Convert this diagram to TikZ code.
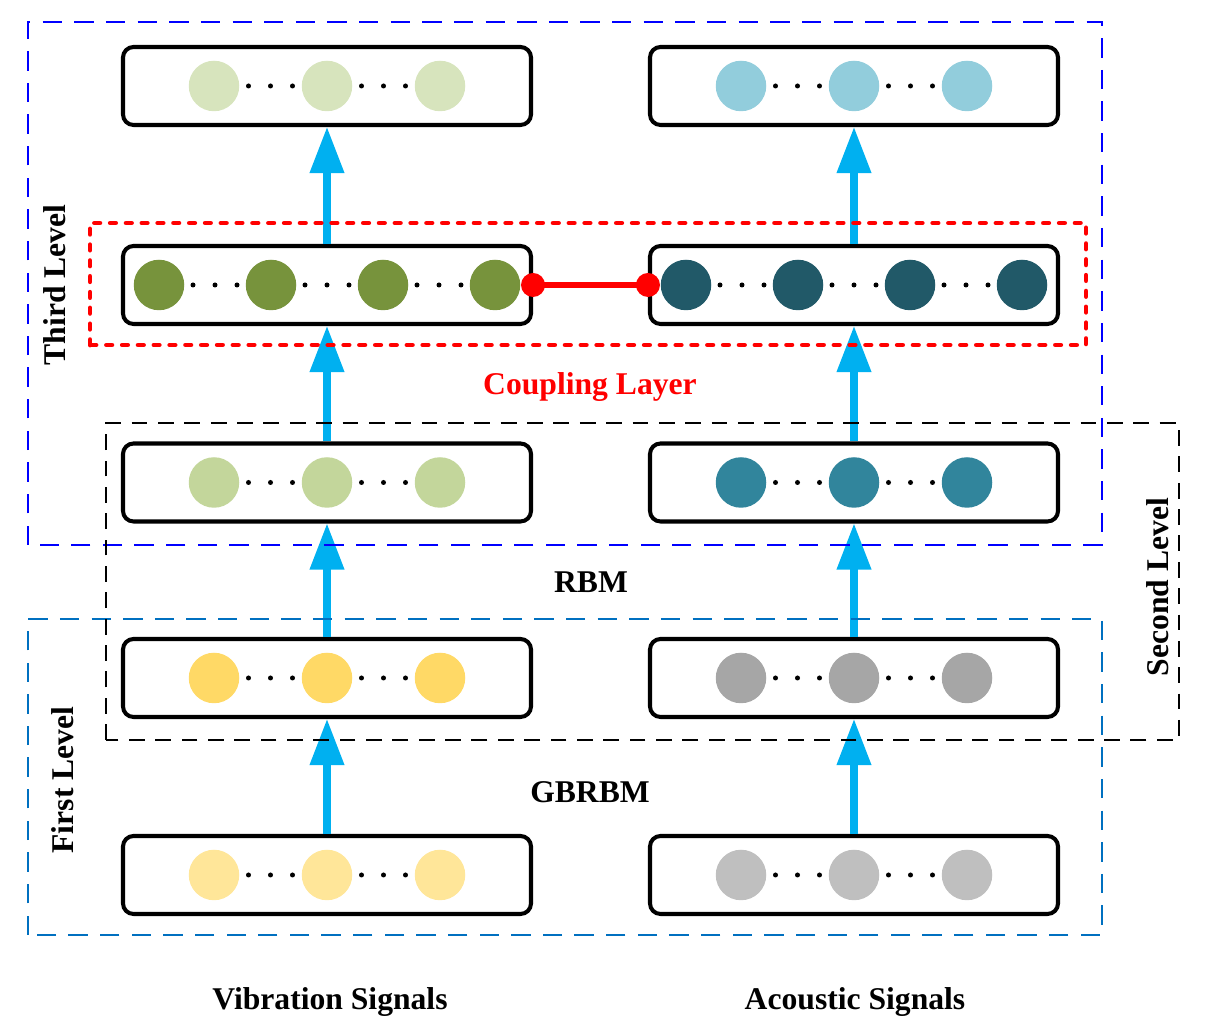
\documentclass[tikz,border=0pt]{standalone}
\usepackage{fontspec}
\setmainfont{Liberation Serif}
\usepackage{tikz}
\usetikzlibrary{arrows.meta}
\usetikzlibrary{calc}
\usetikzlibrary{positioning}
\definecolor{flow-blue}{HTML}{00B0F0}
\definecolor{frame-third}{HTML}{0000FF}
\definecolor{frame-first}{HTML}{0070C0}
\definecolor{vib-top}{HTML}{D7E4BD}
\definecolor{vib-couple}{HTML}{77933C}
\definecolor{vib-rbm}{HTML}{C3D69B}
\definecolor{vib-hidden}{HTML}{FFD966}
\definecolor{vib-input}{HTML}{FFE699}
\definecolor{aco-top}{HTML}{92CDDC}
\definecolor{aco-couple}{HTML}{215968}
\definecolor{aco-rbm}{HTML}{31859C}
\definecolor{aco-hidden}{HTML}{A6A6A6}
\definecolor{aco-input}{HTML}{BFBFBF}

\begin{document}
\begin{tikzpicture}[font=\fontsize{18}{21}\selectfont\bfseries]

    \useasboundingbox (0,0) rectangle (24.12,20.56);

    % layers
    \begin{scope}[every node/.style={draw, line width=2.3pt, rounded corners=6pt,
                  minimum width=8.16cm, minimum height=1.56cm, inner sep=0pt}]
        \node (vib1) at (6.54,3.06) {};
        \node (vib2) at (6.54,7.0) {};
        \node (vib3) at (6.54,10.91) {};
        \node (vib4) at (6.54,14.86) {};
        \node (vib5) at (6.54,18.84) {};
        \node (aco1) at (17.08,3.06) {};
        \node (aco2) at (17.08,7.0) {};
        \node (aco3) at (17.08,10.91) {};
        \node (aco4) at (17.08,14.86) {};
        \node (aco5) at (17.08,18.84) {};
    \end{scope}

    % units
    \begin{scope}[every node/.style={circle, minimum size=1.01cm, inner sep=0pt}]
        \node[fill=vib-input] (vib1-a) at (4.28,3.06) {};
        \node[fill=vib-input] (vib1-b) at (6.54,3.06) {};
        \node[fill=vib-input] (vib1-c) at (8.80,3.06) {};
        \node[fill=vib-hidden] (vib2-a) at (4.28,7.0) {};
        \node[fill=vib-hidden] (vib2-b) at (6.54,7.0) {};
        \node[fill=vib-hidden] (vib2-c) at (8.80,7.0) {};
        \node[fill=vib-rbm] (vib3-a) at (4.28,10.91) {};
        \node[fill=vib-rbm] (vib3-b) at (6.54,10.91) {};
        \node[fill=vib-rbm] (vib3-c) at (8.80,10.91) {};
        \node[fill=vib-couple] (vib4-a) at (3.18,14.86) {};
        \node[fill=vib-couple] (vib4-b) at (5.42,14.86) {};
        \node[fill=vib-couple] (vib4-c) at (7.66,14.86) {};
        \node[fill=vib-couple] (vib4-d) at (9.90,14.86) {};
        \node[fill=vib-top] (vib5-a) at (4.28,18.84) {};
        \node[fill=vib-top] (vib5-b) at (6.54,18.84) {};
        \node[fill=vib-top] (vib5-c) at (8.80,18.84) {};

        \node[fill=aco-input] (aco1-a) at (14.82,3.06) {};
        \node[fill=aco-input] (aco1-b) at (17.08,3.06) {};
        \node[fill=aco-input] (aco1-c) at (19.34,3.06) {};
        \node[fill=aco-hidden] (aco2-a) at (14.82,7.0) {};
        \node[fill=aco-hidden] (aco2-b) at (17.08,7.0) {};
        \node[fill=aco-hidden] (aco2-c) at (19.34,7.0) {};
        \node[fill=aco-rbm] (aco3-a) at (14.82,10.91) {};
        \node[fill=aco-rbm] (aco3-b) at (17.08,10.91) {};
        \node[fill=aco-rbm] (aco3-c) at (19.34,10.91) {};
        \node[fill=aco-couple] (aco4-a) at (13.72,14.86) {};
        \node[fill=aco-couple] (aco4-b) at (15.96,14.86) {};
        \node[fill=aco-couple] (aco4-c) at (18.20,14.86) {};
        \node[fill=aco-couple] (aco4-d) at (20.44,14.86) {};
        \node[fill=aco-top] (aco5-a) at (14.82,18.84) {};
        \node[fill=aco-top] (aco5-b) at (17.08,18.84) {};
        \node[fill=aco-top] (aco5-c) at (19.34,18.84) {};
    \end{scope}

    % dots between units
    \foreach \u/\v in {vib1-a/vib1-b, vib1-b/vib1-c, vib2-a/vib2-b, vib2-b/vib2-c,
                       vib3-a/vib3-b, vib3-b/vib3-c, vib5-a/vib5-b, vib5-b/vib5-c,
                       vib4-a/vib4-b, vib4-b/vib4-c, vib4-c/vib4-d,
                       aco1-a/aco1-b, aco1-b/aco1-c, aco2-a/aco2-b, aco2-b/aco2-c,
                       aco3-a/aco3-b, aco3-b/aco3-c, aco5-a/aco5-b, aco5-b/aco5-c,
                       aco4-a/aco4-b, aco4-b/aco4-c, aco4-c/aco4-d} {
        \coordinate (m) at ($(\u)!0.5!(\v)$);
        \fill (m) circle (0.05);
        \fill ($(m)+(-0.44,0)$) circle (0.05);
        \fill ($(m)+(0.44,0)$) circle (0.05);
    }

    % feed-forward arrows
    \begin{scope}[every path/.style={draw=flow-blue, line width=4pt,
                  -{Triangle[length=0.92cm, width=0.66cm]}}]
        \path (vib1.north) -- (vib2.south);
        \path (vib2.north) -- (vib3.south);
        \path (vib3.north) -- (vib4.south);
        \path (vib4.north) -- (vib5.south);
        \path (aco1.north) -- (aco2.south);
        \path (aco2.north) -- (aco3.south);
        \path (aco3.north) -- (aco4.south);
        \path (aco4.north) -- (aco5.south);
    \end{scope}

    % coupling link
    \draw[red, line width=3.2pt] (vib4.east) -- (aco4.west);
    \fill[red] (vib4.east) circle (0.24);
    \fill[red] (aco4.west) circle (0.24);

    % levels
    \draw[frame-third, line width=1.2pt, dash pattern=on 11pt off 7pt] (0.56,9.66) rectangle (22.04,20.12);
    \draw[frame-first, line width=1.2pt, dash pattern=on 11pt off 7pt] (0.56,1.86) rectangle (22.04,8.18);
    \draw[black, line width=1.2pt, dash pattern=on 9pt off 6pt] (2.12,5.76) rectangle (23.58,12.1);
    \draw[red, line width=2.8pt, line cap=round, dash pattern=on 3pt off 6pt] (1.8,13.66) rectangle (21.72,16.1);

    % labels
    \node[rotate=90] (third) at (1.1,14.86) {Third Level};
    \node[rotate=90] (second) at (23.16,8.82) {Second Level};
    \node[rotate=90] (first) at (1.26,4.96) {First Level};
    \node[red] (coupling) at (11.8,12.82) {Coupling Layer};
    \node (rbm) at (11.82,8.92) {RBM};
    \node (gbrbm) at (11.8,4.72) {GBRBM};
    \node (vibration) at (6.6,0.52) {Vibration Signals};
    \node (acoustic) at (17.1,0.52) {Acoustic Signals};

\end{tikzpicture}
\end{document}
